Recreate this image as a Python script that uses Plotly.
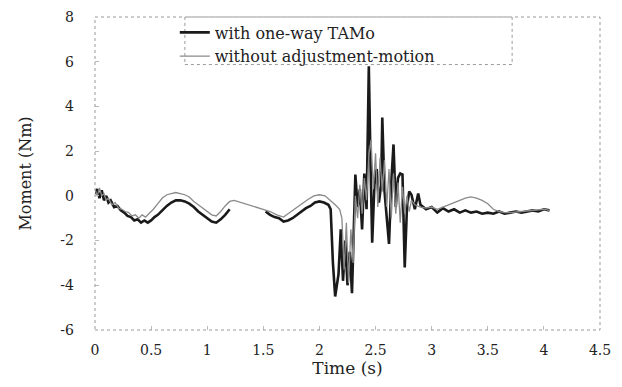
import plotly.graph_objects as go

# ---- data ----
t_tamo = [0.0, 0.02, 0.04, 0.06, 0.08, 0.10, 0.12, 0.14, 0.17, 0.20, 0.23, 0.26, 0.29, 0.32,
          0.35, 0.38, 0.41, 0.44, 0.47, 0.50, 0.53, 0.56, 0.60, 0.64, 0.68, 0.72, 0.76, 0.80,
          0.84, 0.88, 0.92, 0.96, 1.00, 1.04, 1.08, 1.12, 1.16, 1.20, 1.35,
          1.52, 1.56, 1.60, 1.64, 1.68, 1.72, 1.76, 1.80, 1.84, 1.88, 1.92, 1.96, 2.00,
          2.04, 2.08, 2.10, 2.12, 2.14, 2.17, 2.19, 2.21, 2.23, 2.25, 2.27, 2.29, 2.31,
          2.32, 2.34, 2.36, 2.38, 2.40, 2.42, 2.44, 2.455, 2.47, 2.49, 2.51, 2.53, 2.55,
          2.56, 2.58, 2.60, 2.62, 2.64, 2.66, 2.68, 2.70, 2.72, 2.74, 2.76, 2.78, 2.80,
          2.82, 2.85, 2.88, 2.90, 2.95, 3.00, 3.05, 3.10, 3.15, 3.20, 3.25, 3.30, 3.35,
          3.40, 3.45, 3.50, 3.55, 3.60, 3.65, 3.70, 3.75, 3.80, 3.85, 3.90, 3.95, 4.00, 4.05]
m_tamo = [0.1, 0.3, -0.1, 0.25, -0.2, 0.0, -0.3, -0.2, -0.5, -0.45, -0.65, -0.75, -0.9, -0.95,
          -1.1, -1.05, -1.2, -1.1, -1.2, -1.1, -0.95, -0.85, -0.65, -0.45, -0.3, -0.2, -0.2, -0.25,
          -0.35, -0.5, -0.7, -0.85, -1.0, -1.15, -1.2, -1.05, -0.85, -0.6, None,
          -0.7, -0.85, -0.95, -1.0, -1.15, -1.1, -1.0, -0.85, -0.7, -0.55, -0.45, -0.3, -0.25,
          -0.3, -0.4, -0.6, -3.0, -4.5, -3.5, -1.5, -3.8, -2.0, -4.0, -2.5, -4.35, -1.0,
          0.95, -0.5, 0.3, -1.5, 1.0, -0.6, 5.8, 1.5, -2.1, 0.5, 1.2, -0.3, 0.5,
          3.5, 0.2, -1.0, -2.15, 0.6, 2.3, -0.5, 0.8, 1.0, 0.95, -3.2, -0.5, 0.2,
          0.05, -0.6, 0.1, -0.4, -0.6, -0.5, -0.75, -0.55, -0.7, -0.6, -0.75, -0.65, -0.75,
          -0.7, -0.8, -0.75, -0.8, -0.7, -0.8, -0.75, -0.7, -0.75, -0.7, -0.65, -0.7, -0.6, -0.65]

t_noadj = [0.0, 0.02, 0.04, 0.06, 0.08, 0.10, 0.12, 0.15, 0.18, 0.21, 0.24, 0.27, 0.30, 0.33,
           0.36, 0.39, 0.42, 0.45, 0.48, 0.52, 0.56, 0.60, 0.64, 0.68, 0.72, 0.76, 0.80, 0.84,
           0.88, 0.92, 0.96, 1.00, 1.04, 1.08, 1.12, 1.16, 1.20, 1.24, 1.30, 1.40, 1.50,
           1.56, 1.62, 1.68, 1.72, 1.76, 1.80, 1.85, 1.90, 1.95, 2.00, 2.05, 2.10, 2.14,
           2.18, 2.20, 2.22, 2.24, 2.26, 2.28, 2.30, 2.32, 2.34, 2.36, 2.38, 2.40, 2.42,
           2.44, 2.46, 2.48, 2.50, 2.52, 2.54, 2.56, 2.58, 2.60, 2.62, 2.64, 2.66, 2.68,
           2.70, 2.72, 2.74, 2.76, 2.78, 2.80, 2.82, 2.85, 2.90, 2.95, 3.00, 3.05, 3.10,
           3.15, 3.20, 3.25, 3.30, 3.35, 3.40, 3.45, 3.50, 3.55, 3.60, 3.65, 3.70, 3.80,
           3.90, 4.00, 4.05]
m_noadj = [0.3, 0.0, 0.35, 0.0, 0.1, -0.2, -0.1, -0.4, -0.3, -0.55, -0.6, -0.7, -0.75, -0.9,
           -0.85, -1.0, -0.85, -0.95, -0.8, -0.6, -0.35, -0.1, 0.05, 0.1, 0.15, 0.1, 0.05, -0.05,
           -0.25, -0.4, -0.55, -0.7, -0.85, -0.9, -0.7, -0.45, -0.25, -0.2, -0.3, -0.45, -0.6,
           -0.7, -0.85, -0.95, -0.8, -0.65, -0.5, -0.3, -0.15, 0.0, 0.05, 0.0, -0.2, -0.4,
           -0.6, -1.0, -3.3, -1.2, -3.9, -1.5, -3.0, 0.0, -1.0, 0.5, -0.8, 0.8, -0.2,
           1.8, 2.5, 0.3, 1.9, -0.5, 1.7, 0.2, 1.6, -0.5, 1.2, -1.0, 1.0, -0.8,
           0.6, -1.2, 0.4, -0.8, 0.0, -0.7, -0.2, -0.4, -0.5, -0.55, -0.5, -0.6, -0.5,
           -0.4, -0.3, -0.2, -0.1, -0.05, -0.1, -0.2, -0.35, -0.6, -0.7, -0.75, -0.75, -0.7,
           -0.65, -0.6, -0.65]

x_ticks = [0, 0.5, 1, 1.5, 2, 2.5, 3, 3.5, 4, 4.5]
x_tick_labels = ["0", "0.5", "1", "1.5", "2", "2.5", "3", "3.5", "4", "4.5"]
y_ticks = [-6, -4, -2, 0, 2, 4, 6, 8]
y_tick_labels = ["-6", "-4", "-2", "0", "2", "4", "6", "8"]

SERIF = "DejaVu Serif, Liberation Serif, serif"

fig = go.Figure()
fig.add_trace(go.Scatter(x=t_tamo, y=m_tamo, mode="lines", name="with one-way TAMo",
                         line=dict(color="#1a1a1a", width=2.6), connectgaps=False))
fig.add_trace(go.Scatter(x=t_noadj, y=m_noadj, mode="lines", name="without adjustment-motion",
                         line=dict(color="#8a8a8a", width=1.3)))

axis_common = dict(showgrid=False, zeroline=False, showline=False, automargin=False,
                   ticks="inside", ticklen=4, tickcolor="#bbbbbb", ticklabeloverflow="allow",
                   tickfont=dict(family=SERIF, size=14, color="#222222"))

fig.update_xaxes(range=[0, 4.5], tickvals=x_ticks, ticktext=x_tick_labels,
                 title=dict(text="Time (s)", font=dict(family=SERIF, size=17, color="#222222"),
                            standoff=2),
                 ticklabelstandoff=10, **axis_common)
fig.update_yaxes(range=[-6, 8], tickvals=y_ticks, ticktext=y_tick_labels,
                 title=dict(text="Moment (Nm)", font=dict(family=SERIF, size=16, color="#222222"),
                            standoff=24),
                 ticklabelstandoff=20, **axis_common)

# dotted frame around the plotting area
fig.add_shape(type="rect", xref="paper", yref="paper", x0=0, y0=0, x1=1, y1=1,
              line=dict(color="#999999", width=1, dash="dot"))
# dotted frame around the legend
fig.add_shape(type="rect", xref="paper", yref="paper", x0=0.178, y0=0.848, x1=0.826, y1=1.0,
              line=dict(color="#999999", width=1, dash="dot"), fillcolor="rgba(0,0,0,0)")

# the page places the figure 8px from the window's top-left corner, so the
# figure is sized to the visible window area
fig.update_layout(
    width=614, height=379,
    margin=dict(l=87, r=22, t=9, b=57, autoexpand=False),
    paper_bgcolor="white", plot_bgcolor="white",
    showlegend=True,
    legend=dict(x=0.158, y=1.005, xanchor="left", yanchor="top",
                bgcolor="rgba(0,0,0,0)", borderwidth=0,
                font=dict(family=SERIF, size=16, color="#222222"),
                itemwidth=30, tracegroupgap=0,
                ),
)

fig.write_html("out.html")
